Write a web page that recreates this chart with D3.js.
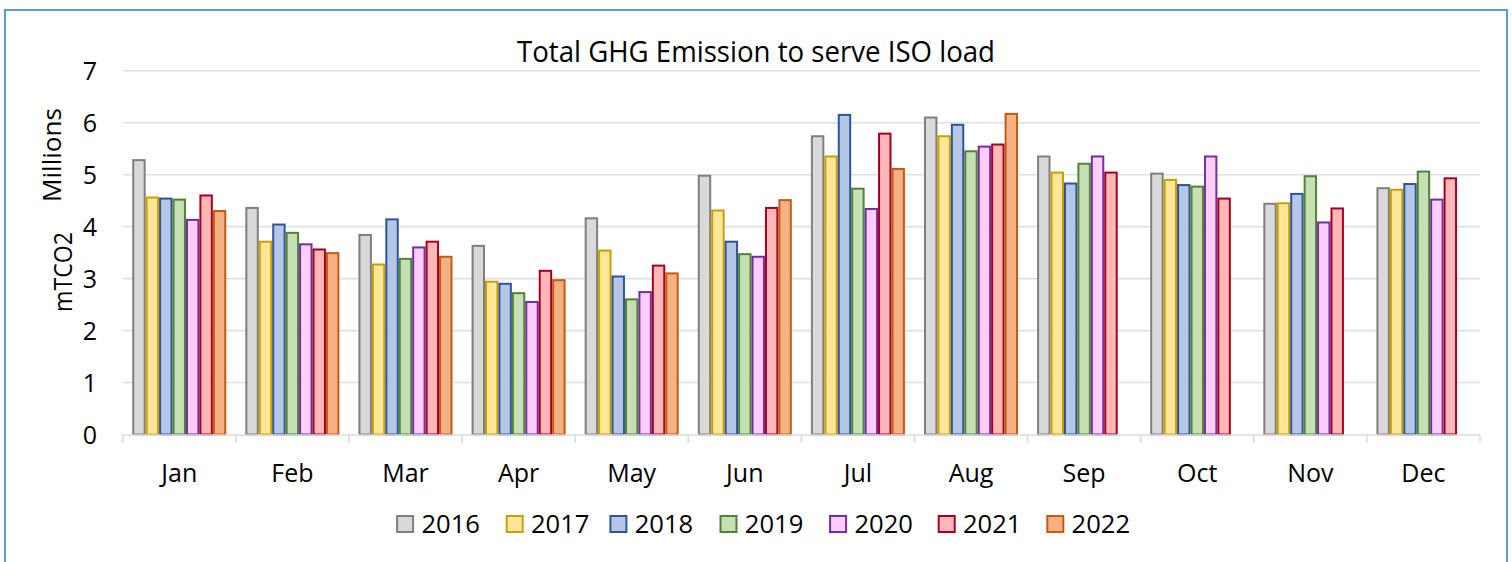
<!DOCTYPE html>
<html><head><meta charset="utf-8">
<script src="https://cdn.jsdelivr.net/npm/d3@7"></script>
<style>body{margin:0;background:#fff;}svg{display:block;font-family:"Open Sans",sans-serif;}</style>
</head><body>
<script>
const months = ["Jan","Feb","Mar","Apr","May","Jun","Jul","Aug","Sep","Oct","Nov","Dec"];
const years = ["2016","2017","2018","2019","2020","2021","2022"];
const v2016 = [5.30,4.38,3.86,3.65,4.18,5.00,5.76,6.12,5.37,5.04,4.46,4.76];
const v2017 = [4.58,3.73,3.29,2.96,3.56,4.33,5.37,5.76,5.06,4.92,4.47,4.73];
const v2018 = [4.56,4.06,4.16,2.92,3.06,3.73,6.17,5.98,4.85,4.82,4.65,4.84];
const v2019 = [4.54,3.90,3.40,2.74,2.62,3.49,4.75,5.47,5.23,4.79,4.99,5.08];
const v2020 = [4.15,3.68,3.62,2.57,2.76,3.44,4.36,5.56,5.37,5.37,4.10,4.54];
const v2021 = [4.62,3.58,3.73,3.17,3.27,4.38,5.81,5.60,5.06,4.56,4.37,4.95];
const v2022 = [4.32,3.51,3.44,2.99,3.12,4.53,5.13,6.19,null,null,null,null];
const yTicks = [0,1,2,3,4,5,6,7];
const fills = ["#d9d9d9","#ffe699","#b4c7e7","#c5e0b4","#ffccff","#ffb7b7","#f4b183"];
const strokes = ["#7f7f7f","#c9a000","#2f5597","#548235","#7030a0","#a50021","#c55a11"];
const series = [v2016,v2017,v2018,v2019,v2020,v2021,v2022];

const W=1512,H=562;
const svg = d3.select("body").append("svg").attr("width",W).attr("height",H);
svg.append("rect").attr("x",5).attr("y",10).attr("width",1502).attr("height",560)
  .attr("fill","#fff").attr("stroke","#5b9bd5").attr("stroke-width",2);

const x0 = d3.scaleBand().domain(months).range([122.7,1480]).padding(0);
const x1 = d3.scaleBand().domain(years).range([0,x0.bandwidth()]).paddingInner(0).paddingOuter(0.71);
const y = d3.scaleLinear().domain([0,7]).range([434.5,70.8]);

// gridlines
svg.append("g").selectAll("line").data(yTicks.filter(d=>d>0)).join("line")
  .attr("x1",122.7).attr("x2",1480).attr("y1",d=>y(d)).attr("y2",d=>y(d))
  .attr("stroke","#dde1e7").attr("stroke-width",1.6);

// y tick labels
svg.append("g").selectAll("text").data(yTicks).join("text")
  .attr("x",97).attr("y",d=>y(d)).attr("dy","0.36em").attr("text-anchor","end")
  .attr("font-size",25).attr("fill","#000").text(d=>d);

// bars
const g = svg.append("g");
series.forEach((vals,si)=>{
  g.append("g").selectAll("rect").data(vals.map((v,i)=>({m:months[i],v})).filter(d=>d.v!=null)).join("rect")
    .attr("x",d=>x0(d.m)+x1(years[si])+1)
    .attr("width",x1.bandwidth()-2)
    .attr("y",d=>y(d.v)+1)
    .attr("height",d=>y(0)-y(d.v)-1)
    .attr("fill",fills[si]).attr("stroke",strokes[si]).attr("stroke-width",2);
});

// x axis
const ax = svg.append("g");
ax.append("line").attr("x1",122.7).attr("x2",1480).attr("y1",435).attr("y2",435)
  .attr("stroke","#d9dde3").attr("stroke-width",1.6);
const bounds = months.map(m=>x0(m)).concat([x0.range()[1]]);
ax.selectAll("line.t").data(bounds).join("line").attr("class","t")
  .attr("x1",d=>d).attr("x2",d=>d).attr("y1",435).attr("y2",443)
  .attr("stroke","#d9dde3").attr("stroke-width",1.6);
ax.selectAll("text").data(months).join("text")
  .attr("x",d=>x0(d)+x0.bandwidth()/2).attr("y",481.7).attr("text-anchor","middle")
  .attr("font-size",25).attr("fill","#000").text(d=>d);

// title
svg.append("text").attr("x",756).attr("y",61.5).attr("text-anchor","middle")
  .attr("font-size",28.5).attr("textLength",478).attr("lengthAdjust","spacingAndGlyphs")
  .text("Total GHG Emission to serve ISO load");

// y axis titles
svg.append("text").attr("transform","translate(61,155) rotate(-90)").attr("text-anchor","middle")
  .attr("font-size",25).attr("textLength",94).attr("lengthAdjust","spacingAndGlyphs").text("Millions");
svg.append("text").attr("transform","translate(71.5,272) rotate(-90)").attr("text-anchor","middle")
  .attr("font-size",25).attr("textLength",80).attr("lengthAdjust","spacingAndGlyphs").text("mTCO2");

// legend
const legX = [396.1,505.7,609.4,719.5,829.1,937.7,1046.3];
const lg = svg.append("g");
years.forEach((yr,i)=>{
  lg.append("rect").attr("x",legX[i]+1).attr("y",516).attr("width",16).attr("height",16)
    .attr("fill",fills[i]).attr("stroke",strokes[i]).attr("stroke-width",2);
  lg.append("text").attr("x",legX[i]+25.3).attr("y",532.7).attr("font-size",25)
    .attr("textLength",58.5).attr("lengthAdjust","spacingAndGlyphs").text(yr);
});
</script>
</body></html>
